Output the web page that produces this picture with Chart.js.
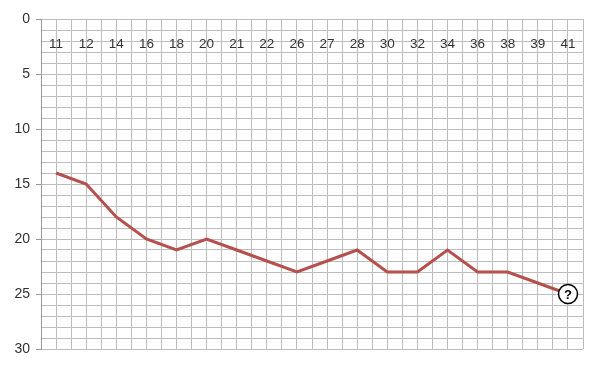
<!DOCTYPE html>
<html><head><meta charset="utf-8">
<script src="https://cdn.jsdelivr.net/npm/chart.js@4/dist/chart.umd.min.js"></script>
<style>html,body{margin:0;padding:0;background:#fff}#wrap{width:596px;height:375px}</style>
</head><body><div id="wrap"><canvas id="c" width="596" height="375"></canvas></div>
<script>
const categories = ['11','12','14','16','18','20','21','22','26','27','28','30','32','34','36','38','39','41'];
const values = [14,15,18,20,21,20,21,22,23,22,21,23,23,21,23,23,24,25];
const yTickLabels = [0,5,10,15,20,25,30];

// "?" marker image
const mk = document.createElement('canvas');
mk.width = 22; mk.height = 22;
const m = mk.getContext('2d');
m.beginPath(); m.arc(11,11,9.5,0,Math.PI*2); m.fillStyle='#fff'; m.fill();
m.lineWidth=1.5; m.strokeStyle='#000'; m.stroke();
m.fillStyle='#000'; m.font='bold 13px "Liberation Sans", sans-serif';
m.textAlign='center'; m.textBaseline='middle'; m.fillText('?',11,12);

const gridColor = '#bdbdbd';
new Chart(document.getElementById('c'), {
  type: 'line',
  data: {
    labels: categories,
    datasets: [{
      data: values,
      borderColor: '#b5504d',
      borderWidth: 3,
      tension: 0,
      pointRadius: values.map((v,i)=> i===values.length-1 ? 10 : 0),
      pointStyle: values.map((v,i)=> i===values.length-1 ? mk : 'circle'),
      pointHoverRadius: 0,
      xAxisID: 'x'
    }]
  },
  options: {
    responsive: false,
    animation: false,
    devicePixelRatio: 1,
    layout: { padding: { left: 0, top: 19, right: 11, bottom: 26 } },
    plugins: { legend: { display: false }, tooltip: { enabled: false } },
    scales: {
      x: {
        type: 'category',
        position: { y: 1.6 },
        offset: true,
        grid: { offset: true, color: gridColor, drawTicks: false, lineWidth: 1 },
        border: { display: false },
        ticks: { color: '#333', font: { family: '"Liberation Sans", sans-serif', size: 13.5 }, padding: 0, maxRotation: 0, autoSkip: false }
      },
      x2: {
        type: 'category',
        position: { y: 1.6 },
        offset: true,
        grid: { offset: false, color: gridColor, drawTicks: false, lineWidth: 1 },
        border: { display: false },
        ticks: { display: false }
      },
      y: {
        reverse: true,
        min: 0, max: 30,
        afterFit: (s) => { s.width = 41; },
        grid: {
          color: gridColor,
          tickLength: 5,
          tickColor: (ctx) => (ctx.tick && yTickLabels.includes(ctx.tick.value)) ? '#999' : 'rgba(0,0,0,0)'
        },
        border: { display: true, color: '#999' },
        ticks: {
          stepSize: 1,
          autoSkip: false,
          padding: 6,
          color: '#333',
          font: { family: '"Liberation Sans", sans-serif', size: 14 },
          callback: (v) => yTickLabels.includes(v) ? String(v) : ''
        }
      }
    }
  }
});
</script></body></html>
